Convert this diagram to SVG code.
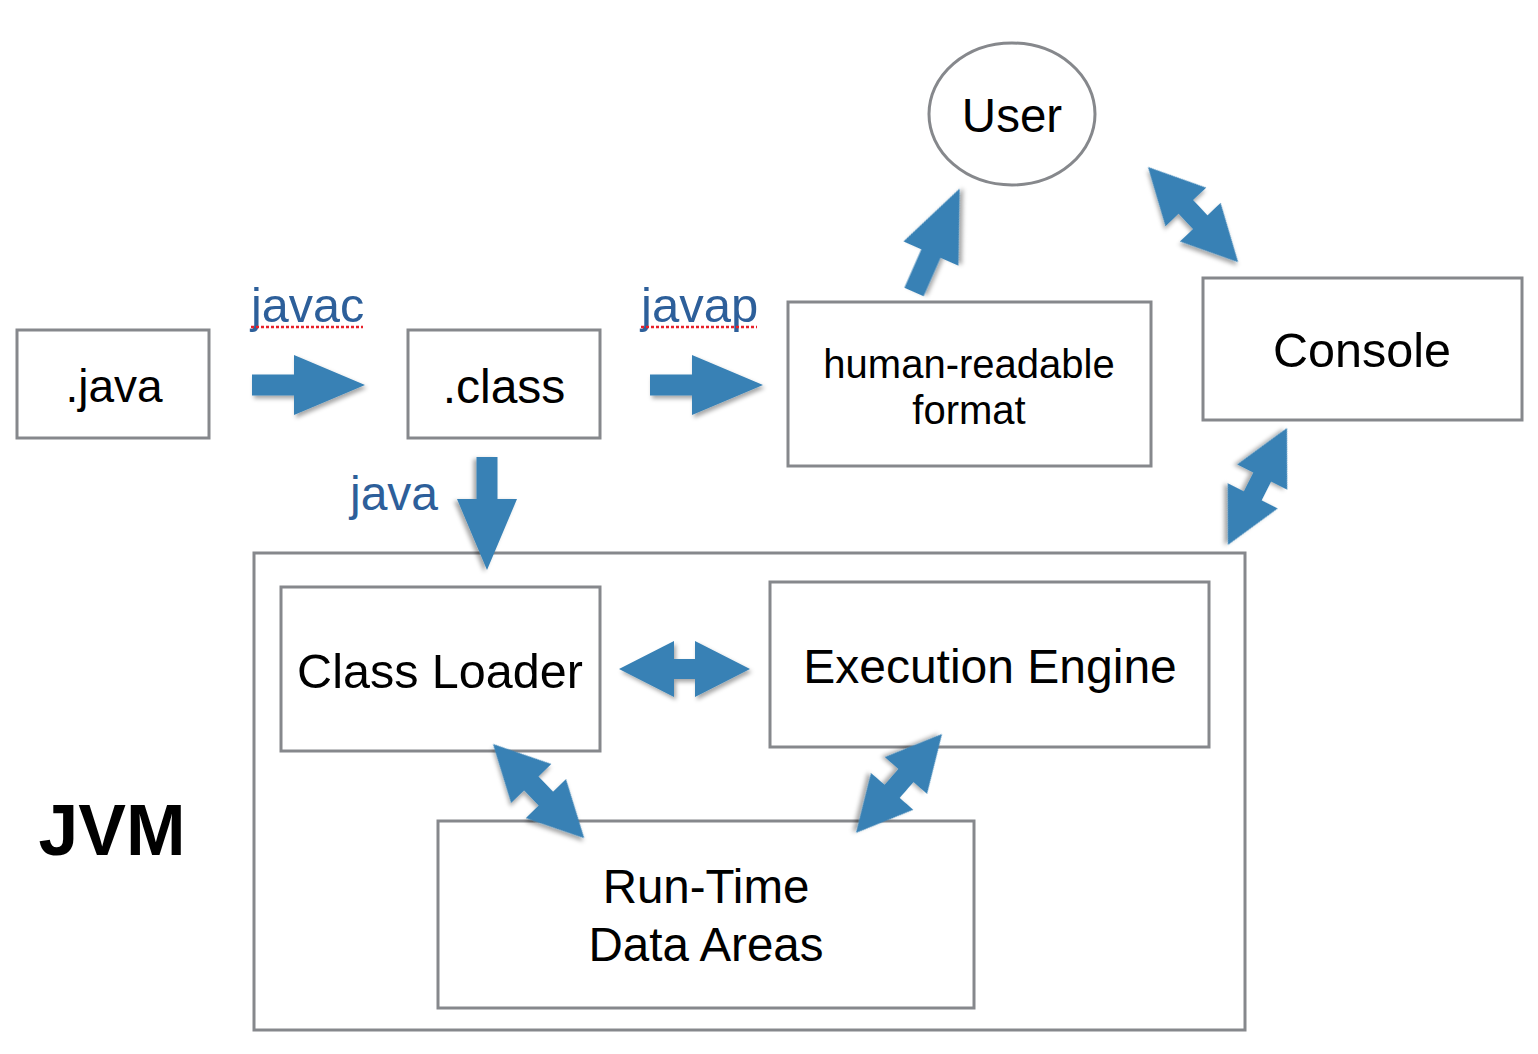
<svg xmlns="http://www.w3.org/2000/svg" width="1538" height="1054" viewBox="0 0 1538 1054">
<style>
.box{fill:#fff;stroke:#86888c;stroke-width:3}
.t{font-family:"Liberation Sans",Arial,sans-serif;fill:#000;text-anchor:middle}
.lbl{font-family:"Liberation Sans",Arial,sans-serif;fill:#2d5f9a}
.arr{fill:#3781b5;filter:url(#sh)}
.sq{stroke:#e8202a;stroke-width:2.5;stroke-dasharray:3 2;fill:none}
</style>
<defs>
<filter id="sh" x="-20%" y="-20%" width="140%" height="140%">
<feDropShadow dx="2" dy="3" stdDeviation="2" flood-color="#000" flood-opacity="0.35"/>
</filter>
<polygon id="single" points="0,-10.5 42,-10.5 42,-30 113,0 42,30 42,10.5 0,10.5"/>
<polygon id="double" points="0,0 55,-28 55,-10 76,-10 76,-28 131,0 76,28 76,10 55,10 55,28"/>
</defs>
<rect width="1538" height="1054" fill="#fff"/>

<g id="java-file">
<rect class="box" x="17" y="330" width="192" height="108"/>
<text class="t" x="114" y="402" font-size="46">.java</text>
</g>
<g id="class-file">
<rect class="box" x="408" y="330" width="192" height="108"/>
<text class="t" x="504" y="403" font-size="48">.class</text>
</g>
<g id="human-readable">
<rect class="box" x="788" y="302" width="363" height="164"/>
<text class="t" x="969" y="378" font-size="40">human-readable</text>
<text class="t" x="969" y="424" font-size="40">format</text>
</g>
<g id="user">
<ellipse cx="1012" cy="114" rx="83" ry="71" fill="#fff" stroke="#86888c" stroke-width="3"/>
<text class="t" x="1012" y="132" font-size="47.5">User</text>
</g>
<g id="console">
<rect class="box" x="1203" y="278" width="319" height="142"/>
<text class="t" x="1362" y="367" font-size="48.5">Console</text>
</g>
<g id="jvm">
<rect class="box" x="254" y="553" width="991" height="477"/>
<text x="112" y="855" font-size="71.5" font-weight="bold" font-family="Liberation Sans,Arial,sans-serif" text-anchor="middle">JVM</text>
</g>
<g id="class-loader">
<rect class="box" x="281" y="587" width="319" height="164"/>
<text class="t" x="440" y="688" font-size="48.5">Class Loader</text>
</g>
<g id="execution-engine">
<rect class="box" x="770" y="582" width="439" height="165"/>
<text class="t" x="990" y="683" font-size="48">Execution Engine</text>
</g>
<g id="runtime-data">
<rect class="box" x="438" y="821" width="536" height="187"/>
<text class="t" x="706" y="903" font-size="47.5">Run-Time</text>
<text class="t" x="706" y="961" font-size="47.5">Data Areas</text>
</g>

<g id="connectors">
<use href="#single" class="arr" transform="translate(252,385)"/>
<use href="#single" class="arr" transform="translate(650,385)"/>
<use href="#single" class="arr" transform="translate(487,457) rotate(90)"/>
<use href="#single" class="arr" transform="translate(914,292) rotate(-66.2)"/>
<use href="#double" class="arr" transform="translate(619,669)"/>
<use href="#double" class="arr" transform="translate(1148,167) rotate(46.55)"/>
<use href="#double" class="arr" transform="translate(1287,428) rotate(116.8)"/>
<use href="#double" class="arr" transform="translate(493,744) rotate(45.9)"/>
<use href="#double" class="arr" transform="translate(942,734) rotate(131)"/>
<text class="lbl" x="251" y="322" font-size="48.5">javac</text>
<line class="sq" x1="251" y1="327" x2="363" y2="327"/>
<text class="lbl" x="641" y="322" font-size="49">javap</text>
<line class="sq" x1="641" y1="327" x2="757" y2="327"/>
<text class="lbl" x="350" y="510" font-size="48">java</text>
</g>
</svg>
